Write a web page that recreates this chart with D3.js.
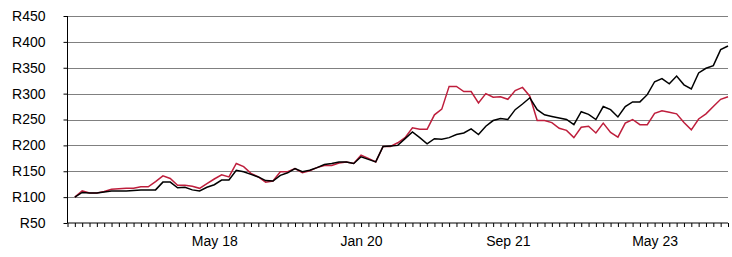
<!DOCTYPE html>
<html>
<head>
<meta charset="utf-8">
<script src="https://cdn.jsdelivr.net/npm/d3@7"></script>
<style>
  html, body { margin: 0; padding: 0; background: #fff; }
  svg text { font-family: "Liberation Sans", Arial, sans-serif; font-size: 14px; fill: #000; }
</style>
</head>
<body>
<div id="chart"></div>
<script>
// monthly categories, Sep 2016 (axis origin) .. Mar 2024
const months = d3.timeMonth.range(new Date(2016, 8, 1), new Date(2024, 3, 1));
const labelEvery = 20;

const yTicks = [50, 100, 150, 200, 250, 300, 350, 400, 450];

// values from Oct 2016 (index 1) onwards
const blackSeries = [
  100, 109, 108, 108, 110, 112, 112, 112, 113, 114,
  114, 114, 129, 129, 118, 119, 114, 112, 119, 124,
  133, 133, 152, 149, 144, 139, 132, 131, 142, 147,
  155, 149, 152, 157, 163, 165, 168, 168, 165, 178,
  173, 168, 198, 199, 200, 213, 226, 215, 203, 213,
  212, 215, 221, 224, 232, 221, 237, 248, 252, 250,
  269, 280, 292, 269, 259, 256, 253, 250, 240, 265,
  260, 250, 275, 269, 255, 275, 284, 284, 298, 323,
  329, 319, 334, 317, 309, 340, 349, 354, 385, 392
];
const redSeries = [
  100, 112, 108, 108, 111, 115, 116, 117, 117, 120,
  120, 130, 141, 136, 123, 123, 121, 117, 126, 135,
  143, 139, 165, 159, 146, 139, 129, 131, 149, 149,
  155, 147, 151, 157, 161, 161, 166, 168, 165, 181,
  175, 168, 198, 198, 205, 215, 234, 231, 231, 259,
  270, 314, 314, 304, 304, 282, 300, 293, 294, 289,
  306, 312, 295, 248, 248, 244, 233, 229, 215, 235,
  237, 224, 243, 225, 216, 243, 250, 240, 240, 262,
  267, 264, 261, 244, 230, 251, 261, 275, 289, 294
];

const width = 732, height = 257;
const margin = { top: 16, right: 4, bottom: 34, left: 67.5 };

const svg = d3.select('#chart').append('svg')
  .attr('width', width).attr('height', height)
  .attr('viewBox', `0 0 ${width} ${height}`);

const x = d3.scaleLinear()
  .domain([0, months.length - 1])
  .range([margin.left, width - margin.right]);

const y = d3.scaleLinear()
  .domain([50, 450])
  .range([height - margin.bottom, margin.top]);

// dotted gridlines
svg.append('g').attr('class', 'grid')
  .selectAll('line').data(yTicks.filter(d => d > 50)).join('line')
  .attr('x1', x(0)).attr('x2', x(months.length - 1))
  .attr('y1', d => Math.round(y(d)) + 0.5).attr('y2', d => Math.round(y(d)) + 0.5)
  .attr('stroke', '#000').attr('stroke-width', 1)
  .attr('stroke-dasharray', '1,1');

// y axis
const yAxis = svg.append('g')
  .attr('transform', `translate(${x(0)},0)`)
  .call(d3.axisLeft(y).tickValues(yTicks).tickSize(4).tickPadding(18)
    .tickFormat(d => 'R' + d));
yAxis.select('.domain').attr('d', `M0,${y(450)}V${y(50)}`);

// x axis: tick every month, label every 20 months
const fmt = d3.timeFormat('%b %y');
const xAxis = svg.append('g')
  .attr('transform', `translate(0,${y(50)})`)
  .call(d3.axisBottom(x).tickValues(d3.range(0, months.length)).tickSize(4).tickPadding(9)
    .tickFormat(i => (i > 0 && i % labelEvery === 0) ? fmt(months[i]) : ''));
xAxis.select('.domain').attr('d', `M${x(0)},0H${x(months.length - 1)}`);

svg.selectAll('.domain, .tick line').attr('stroke', '#000').attr('stroke-width', 1);

const line = d3.line()
  .x((d, i) => x(i + 1))
  .y(d => y(d));

svg.append('path').datum(redSeries)
  .attr('fill', 'none').attr('stroke', '#BE1E3C').attr('stroke-width', 1.5)
  .attr('stroke-linejoin', 'miter')
  .attr('d', line);

svg.append('path').datum(blackSeries)
  .attr('fill', 'none').attr('stroke', '#000').attr('stroke-width', 1.5)
  .attr('stroke-linejoin', 'miter')
  .attr('d', line);
</script>
</body>
</html>
